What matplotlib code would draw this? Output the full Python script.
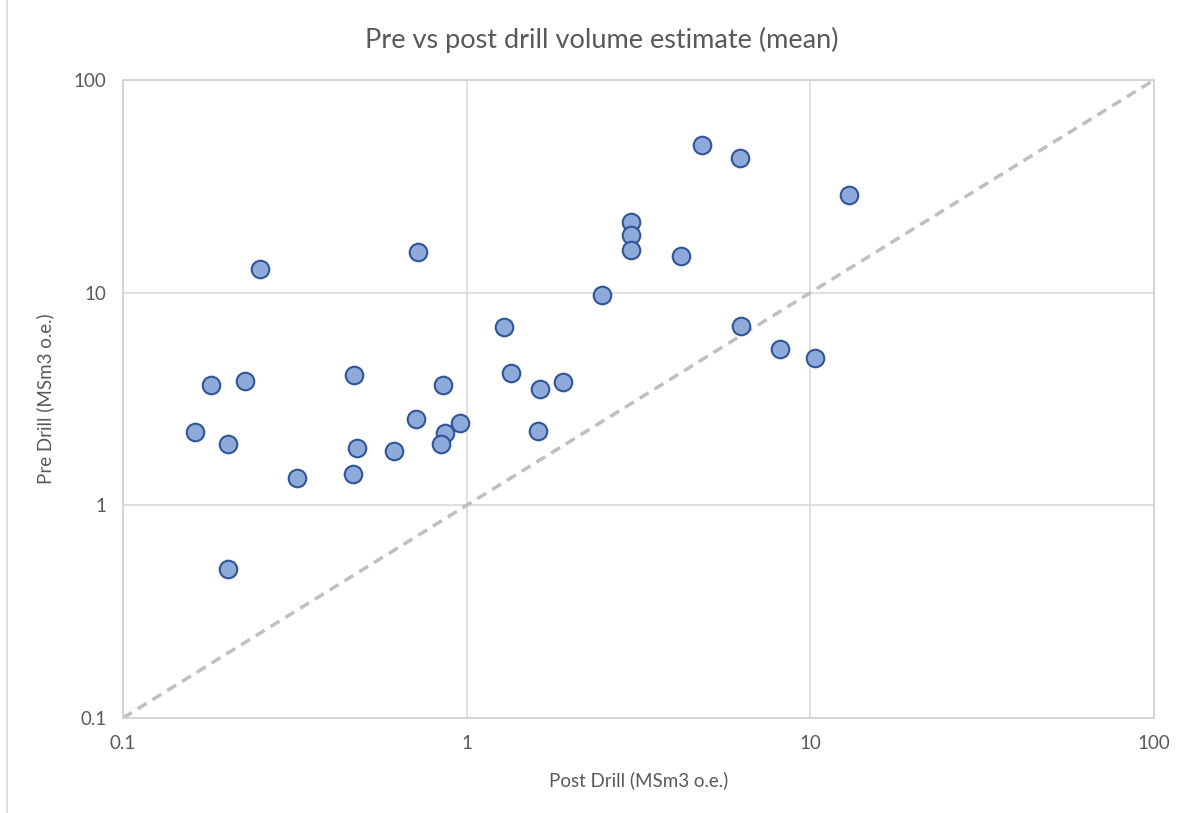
import numpy as np
import matplotlib.pyplot as plt
from matplotlib.lines import Line2D

# values (MSm3 o.e.)
post_drill = [4.84, 6.24, 12.95, 3.01, 3.01, 3.01, 4.20, 0.722, 0.250, 2.48,
              1.28, 6.30, 8.16, 10.3, 0.180, 0.226, 0.470, 0.853, 1.35, 1.63,
              1.91, 0.162, 0.202, 0.712, 0.956, 0.865, 0.840, 1.61, 0.480, 0.614,
              0.321, 0.467, 0.202]
pre_drill = [49.3, 42.8, 28.7, 21.6, 18.6, 15.8, 14.8, 15.6, 12.9, 9.71,
             6.87, 6.94, 5.41, 4.91, 3.67, 3.83, 4.08, 3.67, 4.17, 3.51,
             3.79, 2.20, 1.94, 2.54, 2.43, 2.18, 1.94, 2.23, 1.85, 1.81,
             1.34, 1.40, 0.50]
ticks = [0.1, 1, 10, 100]
tick_labels = ["0.1", "1", "10", "100"]

plt.rcParams['font.family'] = ['Lato', 'DejaVu Sans']
grey = "#595959"

fig = plt.figure(figsize=(11.77, 8.13), dpi=100)
ax = fig.add_axes([0.1045, 0.1169, 0.876, 0.7847])

ax.set_xscale("log")
ax.set_yscale("log")
ax.set_xlim(0.1, 100)
ax.set_ylim(0.1, 100)

ax.plot([0.1, 100], [0.1, 100], ls=(0, (3, 2)), color="#bfbfbf", lw=2.5, zorder=2)
ax.scatter(post_drill, pre_drill, s=160, c="#8eaadb", edgecolors="#2f5597",
           linewidths=1.5, zorder=3)

ax.set_xticks(ticks)
ax.set_xticklabels(tick_labels)
ax.set_yticks(ticks)
ax.set_yticklabels(tick_labels)
ax.minorticks_off()
ax.tick_params(length=0, labelsize=13.5, colors=grey, pad=12)
ax.grid(True, color="#d9d9d9", lw=1.2)
ax.set_axisbelow(True)
for s in ax.spines.values():
    s.set_color("#d0d0d0")
    s.set_linewidth(1.2)

ax.set_xlabel("Post Drill (MSm3 o.e.)", fontsize=13.5, color=grey, labelpad=14)
ax.set_ylabel("Pre Drill (MSm3 o.e.)", fontsize=13.5, color=grey, labelpad=14)
fig.text(0.511, 0.951, "Pre vs post drill volume estimate (mean)", fontsize=19.5,
         color=grey, ha="center", va="center")

# thin border of the chart area on the left
fig.add_artist(Line2D([0.006, 0.006], [0, 1], color="#d9d9d9", lw=1.2,
                      transform=fig.transFigure))

fig.savefig("out.png", dpi=100, facecolor="white")
